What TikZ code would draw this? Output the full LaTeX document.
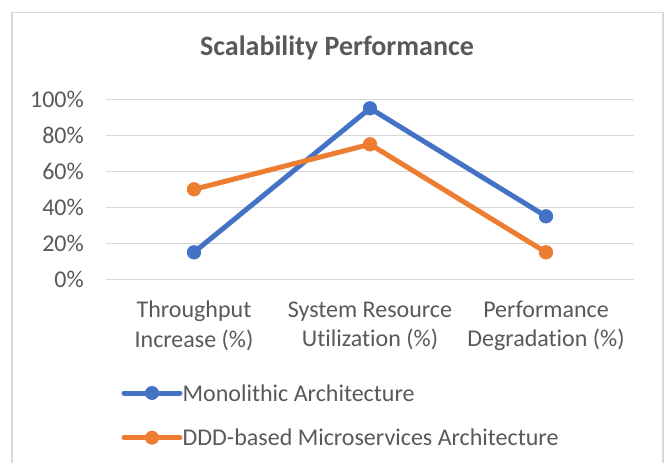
\documentclass[tikz,border=0pt]{standalone}
\usepackage{fontspec}
\setmainfont[Ligatures={NoCommon}]{Carlito}
\definecolor{txtgray}{HTML}{595959}
\definecolor{gridgray}{HTML}{D9D9D9}
\definecolor{monoblue}{HTML}{4472C4}
\definecolor{dddorange}{HTML}{ED7D31}
\begin{document}
\begin{tikzpicture}[x=1pt,y=-1pt,
  lbl/.style={text=txtgray,font=\fontsize{24}{29.5}\selectfont,inner sep=0pt},
  catlbl/.style={lbl,align=center},
  gridline/.style={draw=gridgray,line width=1.5pt},
  serline/.style={line width=5pt,line cap=round,line join=round},
  dot/.style={circle,inner sep=0pt,minimum size=14pt},
  bluedot/.style={dot,fill=monoblue},
  orangedot/.style={dot,fill=dddorange}]
\useasboundingbox (0,0) rectangle (665,463);
\fill[white] (0,0) rectangle (665,463);
% chart frame (bottom edge lies below the page)
\draw[gridgray,line width=1.5pt] (12,12.5) rectangle (663,480);

% title
\node[text=txtgray,font=\fontsize{28}{34}\selectfont\bfseries,inner sep=0pt] (title) at (337,48) {Scalability Performance};

% horizontal grid and value axis labels
\foreach \v/\t in {0/0\%,20/20\%,40/40\%,60/60\%,80/80\%,100/100\%}{
  \coordinate (gl\v) at (106,{279.3-1.8*\v});
  \coordinate (gr\v) at (634,{279.3-1.8*\v});
  \draw[gridline] (gl\v) -- (gr\v);
  \node[lbl,anchor=east] (ylab\v) at (84,{279.3-1.8*\v}) {\t};
}

% category labels
\node[catlbl] (cat1) at (194,326) {Throughput\\Increase (\%)};
\node[catlbl] (cat2) at (370,326) {System Resource\\Utilization (\%)};
\node[catlbl] (cat3) at (546,326) {Performance\\Degradation (\%)};

% data points
\node[bluedot] (m1) at (194,{279.3-1.8*15}) {};
\node[bluedot] (m2) at (370,{279.3-1.8*95}) {};
\node[bluedot] (m3) at (546,{279.3-1.8*35}) {};
\node[orangedot] (d1) at (194,{279.3-1.8*50}) {};
\node[orangedot] (d2) at (370,{279.3-1.8*75}) {};
\node[orangedot] (d3) at (546,{279.3-1.8*15}) {};

% series lines
\draw[serline,monoblue] (m1.center) -- (m2.center) -- (m3.center);
\draw[serline,dddorange] (d1.center) -- (d2.center) -- (d3.center);
\node[bluedot] at (m1) {};
\node[bluedot] at (m2) {};
\node[bluedot] at (m3) {};
\node[orangedot] at (d1) {};
\node[orangedot] at (d2) {};
\node[orangedot] at (d3) {};

% legend
\coordinate (lma) at (124,393);
\coordinate (lmb) at (180,393);
\draw[serline,monoblue] (lma) -- (lmb);
\node[bluedot] (lmdot) at (152,393) {};
\node[lbl,anchor=west] (lmtext) at (182.5,393) {Monolithic Architecture};

\coordinate (lda) at (124,437.7);
\coordinate (ldb) at (180,437.7);
\draw[serline,dddorange] (lda) -- (ldb);
\node[orangedot] (lddot) at (152,437.7) {};
\node[lbl,anchor=west] (ldtext) at (182.5,437.7) {DDD-based Microservices Architecture};
\end{tikzpicture}
\end{document}
